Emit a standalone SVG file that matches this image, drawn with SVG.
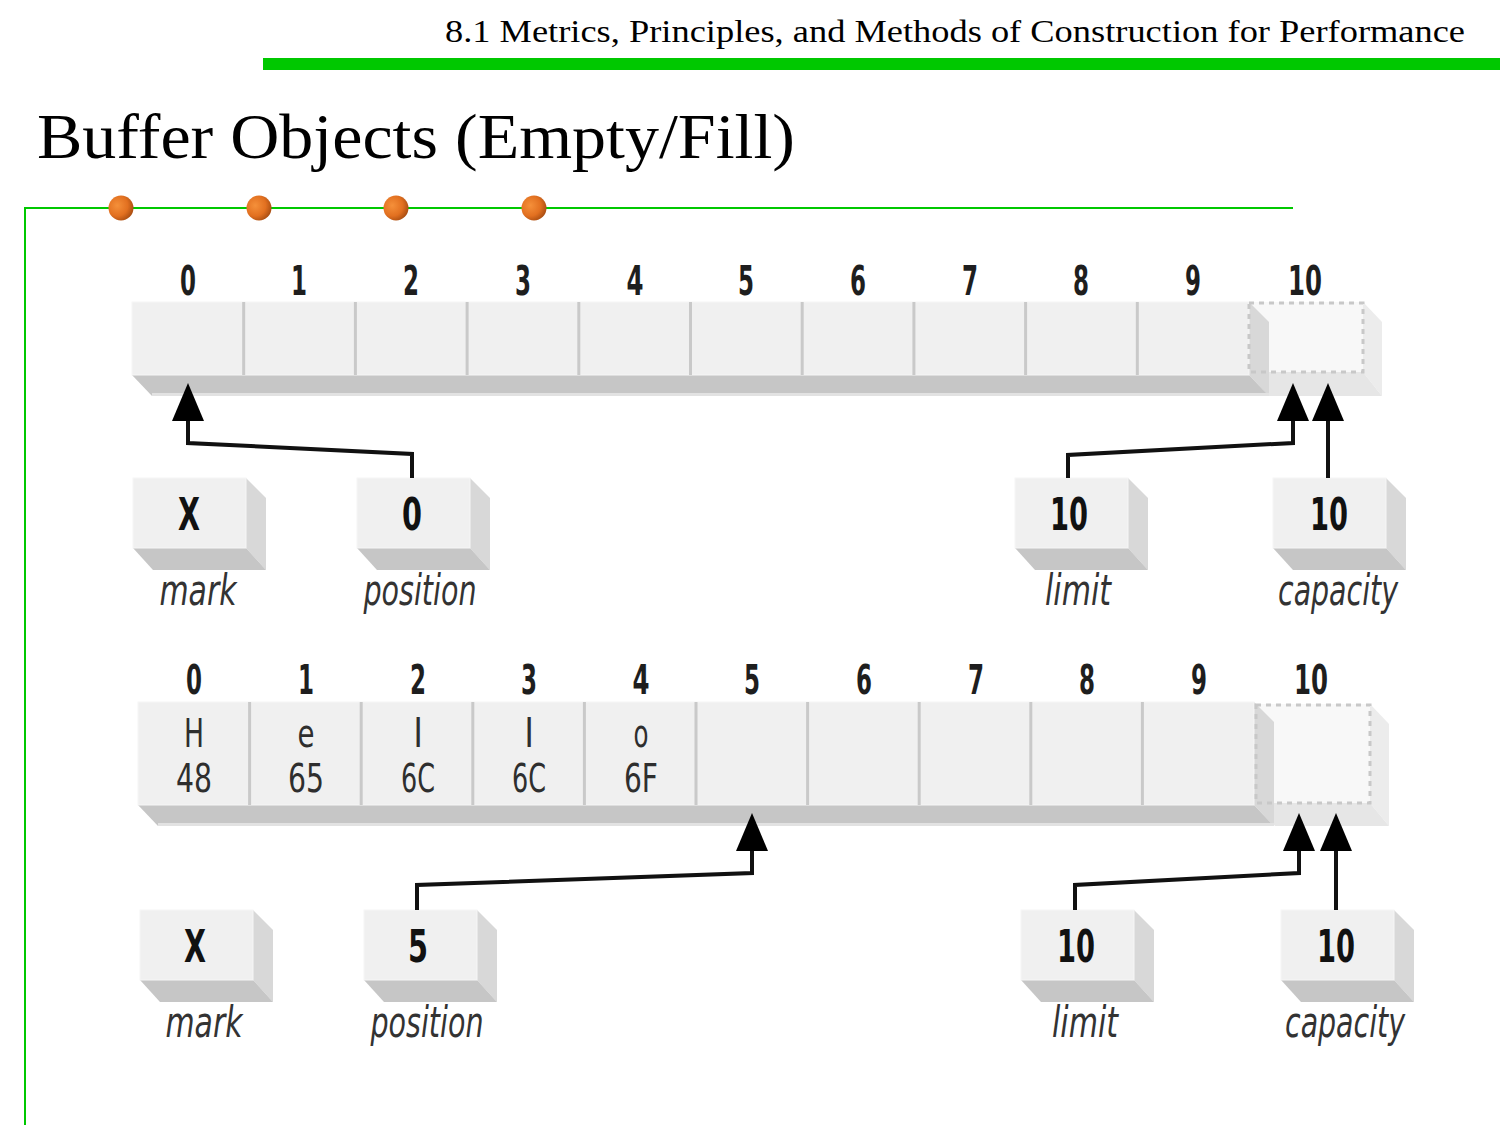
<svg xmlns="http://www.w3.org/2000/svg" width="1500" height="1125" viewBox="0 0 1500 1125">
<style>
.hdr{font-family:"Liberation Serif",serif;fill:#000}
.idx{font-family:"Liberation Sans Narrow","DejaVu Sans Condensed","Liberation Sans",sans-serif;font-weight:bold;font-size:40px;fill:#1e1e1e;text-anchor:middle}
.val{font-family:"Liberation Sans Narrow","DejaVu Sans Condensed","Liberation Sans",sans-serif;font-size:39px;fill:#2e2e2e;text-anchor:middle}
.bx{font-family:"Liberation Sans Narrow","DejaVu Sans Condensed","Liberation Sans",sans-serif;font-weight:bold;font-size:44px;fill:#111;text-anchor:middle}
.lbl{font-family:"Liberation Sans Narrow","DejaVu Sans Condensed","Liberation Sans",sans-serif;font-style:italic;font-size:42px;fill:#333;text-anchor:middle}
.face{fill:#f0f0f0;stroke:#f6f6f6;stroke-width:1}
.sr{fill:#d8d8d8}
.sb{fill:#c6c6c6}
.gsr{fill:#ececec}
.gsb{fill:#e6e6e6}
.ghost{fill:#f8f8f8}
.dash{fill:none;stroke:#c8c8c8;stroke-width:3;stroke-dasharray:5 5}
.div{stroke:#c9c9c9;stroke-width:3}
.conn{fill:none;stroke:#111;stroke-width:4;marker-end:url(#ah)}
.green{fill:none;stroke:#00c800;stroke-width:2}
</style>
<defs>
<marker id="ah" markerUnits="userSpaceOnUse" viewBox="0 0 38 32" refX="28" refY="16" markerWidth="38" markerHeight="32" orient="auto">
<path d="M0,0 L38,16 L0,32 z" fill="#000"/>
</marker>
<radialGradient id="dot" cx="0.35" cy="0.4" r="0.7">
<stop offset="0" stop-color="#f5903a"/>
<stop offset="0.6" stop-color="#e27020"/>
<stop offset="1" stop-color="#a44a10"/>
</radialGradient>
</defs>

<g id="header">
<text class="hdr" x="1465" y="42" font-size="31" text-anchor="end" textLength="1020" lengthAdjust="spacingAndGlyphs">8.1 Metrics, Principles, and Methods of Construction for Performance</text>
<rect x="263" y="58" width="1237" height="12" fill="#00c800"/>
<text class="hdr" x="37" y="158" font-size="64" textLength="758" lengthAdjust="spacingAndGlyphs">Buffer Objects (Empty/Fill)</text>
</g>

<g id="frame">
<polyline class="green" points="25,1125 25,208 1293,208"/>
<circle cx="121" cy="208" r="12.5" fill="url(#dot)"/>
<circle cx="259" cy="208" r="12.5" fill="url(#dot)"/>
<circle cx="396" cy="208" r="12.5" fill="url(#dot)"/>
<circle cx="534" cy="208" r="12.5" fill="url(#dot)"/>
</g>

<!-- Top buffer (empty) -->
<g id="buffer-empty">
<polygon class="gsr" points="1363,302 1382,322 1382,396 1363,372"/>
<polygon class="gsb" points="1249,372 1363,372 1382,396 1268,396"/>
<rect class="ghost" x="1249" y="302" width="114" height="70"/>
<polygon class="sr" points="1249,302 1269,322 1269,396 1249,375"/>
<polygon class="sb" points="132,375 1249,375 1269,396 152,396"/>
<rect x="152" y="393" width="1117" height="3" fill="#e2e2e2"/>
<rect class="face" x="132" y="302" width="1117" height="73"/>
<g class="div">
<line x1="243.7" y1="302" x2="243.7" y2="375"/>
<line x1="355.4" y1="302" x2="355.4" y2="375"/>
<line x1="467.1" y1="302" x2="467.1" y2="375"/>
<line x1="578.8" y1="302" x2="578.8" y2="375"/>
<line x1="690.5" y1="302" x2="690.5" y2="375"/>
<line x1="802.2" y1="302" x2="802.2" y2="375"/>
<line x1="913.9" y1="302" x2="913.9" y2="375"/>
<line x1="1025.6" y1="302" x2="1025.6" y2="375"/>
<line x1="1137.3" y1="302" x2="1137.3" y2="375"/>
</g>
<rect class="dash" x="1249" y="303" width="114" height="69"/>
<text class="idx" x="188" y="295" textLength="16" lengthAdjust="spacingAndGlyphs">0</text>
<text class="idx" x="299" y="295" textLength="16" lengthAdjust="spacingAndGlyphs">1</text>
<text class="idx" x="411" y="295" textLength="16" lengthAdjust="spacingAndGlyphs">2</text>
<text class="idx" x="523" y="295" textLength="16" lengthAdjust="spacingAndGlyphs">3</text>
<text class="idx" x="635" y="295" textLength="17" lengthAdjust="spacingAndGlyphs">4</text>
<text class="idx" x="746" y="295" textLength="16" lengthAdjust="spacingAndGlyphs">5</text>
<text class="idx" x="858" y="295" textLength="16" lengthAdjust="spacingAndGlyphs">6</text>
<text class="idx" x="970" y="295" textLength="16" lengthAdjust="spacingAndGlyphs">7</text>
<text class="idx" x="1081" y="295" textLength="16" lengthAdjust="spacingAndGlyphs">8</text>
<text class="idx" x="1193" y="295" textLength="16" lengthAdjust="spacingAndGlyphs">9</text>
<text class="idx" x="1305" y="295" textLength="34" lengthAdjust="spacingAndGlyphs">10</text>
</g>

<g id="mark-1">
<polygon class="sr" points="246,478 266,498 266,570 246,548"/>
<polygon class="sb" points="133,548 246,548 266,570 153,570"/>
<rect class="face" x="133" y="478" width="113" height="70"/>
<text class="bx" x="189" y="530" textLength="22" lengthAdjust="spacingAndGlyphs">X</text>
<text class="lbl" x="198" y="605" textLength="77" lengthAdjust="spacingAndGlyphs">mark</text>
</g>
<g id="position-1">
<polygon class="sr" points="470,478 490,498 490,570 470,548"/>
<polygon class="sb" points="357,548 470,548 490,570 377,570"/>
<rect class="face" x="357" y="478" width="113" height="70"/>
<text class="bx" x="412" y="530" textLength="20" lengthAdjust="spacingAndGlyphs">0</text>
<text class="lbl" x="420" y="605" textLength="113" lengthAdjust="spacingAndGlyphs">position</text>
</g>
<g id="limit-1">
<polygon class="sr" points="1128,478 1148,498 1148,570 1128,548"/>
<polygon class="sb" points="1015,548 1128,548 1148,570 1035,570"/>
<rect class="face" x="1015" y="478" width="113" height="70"/>
<text class="bx" x="1069" y="530" textLength="38" lengthAdjust="spacingAndGlyphs">10</text>
<text class="lbl" x="1078" y="605" textLength="66" lengthAdjust="spacingAndGlyphs">limit</text>
</g>
<g id="capacity-1">
<polygon class="sr" points="1386,478 1406,498 1406,570 1386,548"/>
<polygon class="sb" points="1273,548 1386,548 1406,570 1293,570"/>
<rect class="face" x="1273" y="478" width="113" height="70"/>
<text class="bx" x="1329" y="530" textLength="38" lengthAdjust="spacingAndGlyphs">10</text>
<text class="lbl" x="1338" y="605" textLength="120" lengthAdjust="spacingAndGlyphs">capacity</text>
</g>

<!-- Bottom buffer (filled) -->
<g id="buffer-fill">
<polygon class="gsr" points="1370,704 1389,724 1389,826 1370,803"/>
<polygon class="gsb" points="1256,803 1370,803 1389,826 1275,826"/>
<rect class="ghost" x="1256" y="704" width="114" height="99"/>
<polygon class="sr" points="1254,702 1274,722 1274,826 1254,805"/>
<polygon class="sb" points="138,805 1254,805 1274,826 158,826"/>
<rect x="158" y="823" width="1116" height="3" fill="#e2e2e2"/>
<rect class="face" x="138" y="702" width="1116" height="103"/>
<g class="div">
<line x1="249.6" y1="702" x2="249.6" y2="805"/>
<line x1="361.2" y1="702" x2="361.2" y2="805"/>
<line x1="472.8" y1="702" x2="472.8" y2="805"/>
<line x1="584.4" y1="702" x2="584.4" y2="805"/>
<line x1="696" y1="702" x2="696" y2="805"/>
<line x1="807.6" y1="702" x2="807.6" y2="805"/>
<line x1="919.2" y1="702" x2="919.2" y2="805"/>
<line x1="1030.8" y1="702" x2="1030.8" y2="805"/>
<line x1="1142.4" y1="702" x2="1142.4" y2="805"/>
</g>
<rect class="dash" x="1256" y="705" width="114" height="98"/>
<text class="idx" x="194" y="694" textLength="16" lengthAdjust="spacingAndGlyphs">0</text>
<text class="idx" x="306" y="694" textLength="16" lengthAdjust="spacingAndGlyphs">1</text>
<text class="idx" x="418" y="694" textLength="16" lengthAdjust="spacingAndGlyphs">2</text>
<text class="idx" x="529" y="694" textLength="16" lengthAdjust="spacingAndGlyphs">3</text>
<text class="idx" x="641" y="694" textLength="17" lengthAdjust="spacingAndGlyphs">4</text>
<text class="idx" x="752" y="694" textLength="16" lengthAdjust="spacingAndGlyphs">5</text>
<text class="idx" x="864" y="694" textLength="16" lengthAdjust="spacingAndGlyphs">6</text>
<text class="idx" x="976" y="694" textLength="16" lengthAdjust="spacingAndGlyphs">7</text>
<text class="idx" x="1087" y="694" textLength="16" lengthAdjust="spacingAndGlyphs">8</text>
<text class="idx" x="1199" y="694" textLength="16" lengthAdjust="spacingAndGlyphs">9</text>
<text class="idx" x="1311" y="694" textLength="34" lengthAdjust="spacingAndGlyphs">10</text>
<text class="val" x="194" y="747" textLength="20" lengthAdjust="spacingAndGlyphs">H</text>
<text class="val" x="194" y="792" textLength="36" lengthAdjust="spacingAndGlyphs">48</text>
<text class="val" x="306" y="747" textLength="17" lengthAdjust="spacingAndGlyphs">e</text>
<text class="val" x="306" y="792" textLength="36" lengthAdjust="spacingAndGlyphs">65</text>
<text class="val" x="418" y="747">l</text>
<text class="val" x="418" y="792" textLength="34" lengthAdjust="spacingAndGlyphs">6C</text>
<text class="val" x="529" y="747">l</text>
<text class="val" x="529" y="792" textLength="34" lengthAdjust="spacingAndGlyphs">6C</text>
<text class="val" x="641" y="747" textLength="15" lengthAdjust="spacingAndGlyphs">o</text>
<text class="val" x="641" y="792" textLength="34" lengthAdjust="spacingAndGlyphs">6F</text>
</g>

<g id="mark-2">
<polygon class="sr" points="253,910 273,930 273,1002 253,980"/>
<polygon class="sb" points="140,980 253,980 273,1002 160,1002"/>
<rect class="face" x="140" y="910" width="113" height="70"/>
<text class="bx" x="195" y="962" textLength="22" lengthAdjust="spacingAndGlyphs">X</text>
<text class="lbl" x="204" y="1037" textLength="77" lengthAdjust="spacingAndGlyphs">mark</text>
</g>
<g id="position-2">
<polygon class="sr" points="477,910 497,930 497,1002 477,980"/>
<polygon class="sb" points="364,980 477,980 497,1002 384,1002"/>
<rect class="face" x="364" y="910" width="113" height="70"/>
<text class="bx" x="418" y="962" textLength="20" lengthAdjust="spacingAndGlyphs">5</text>
<text class="lbl" x="427" y="1037" textLength="113" lengthAdjust="spacingAndGlyphs">position</text>
</g>
<g id="limit-2">
<polygon class="sr" points="1134,910 1154,930 1154,1002 1134,980"/>
<polygon class="sb" points="1021,980 1134,980 1154,1002 1041,1002"/>
<rect class="face" x="1021" y="910" width="113" height="70"/>
<text class="bx" x="1076" y="962" textLength="38" lengthAdjust="spacingAndGlyphs">10</text>
<text class="lbl" x="1085" y="1037" textLength="66" lengthAdjust="spacingAndGlyphs">limit</text>
</g>
<g id="capacity-2">
<polygon class="sr" points="1394,910 1414,930 1414,1002 1394,980"/>
<polygon class="sb" points="1281,980 1394,980 1414,1002 1301,1002"/>
<rect class="face" x="1281" y="910" width="113" height="70"/>
<text class="bx" x="1336" y="962" textLength="38" lengthAdjust="spacingAndGlyphs">10</text>
<text class="lbl" x="1345" y="1037" textLength="120" lengthAdjust="spacingAndGlyphs">capacity</text>
</g>

<g id="connectors">
<polyline class="conn" points="412,478 412,454 188,443 188,393"/>
<polyline class="conn" points="1068,478 1068,455 1293,443 1293,393"/>
<polyline class="conn" points="1328,478 1328,393"/>
<polyline class="conn" points="417,910 417,885 752,873 752,823"/>
<polyline class="conn" points="1075,910 1075,885 1299,873 1299,823"/>
<polyline class="conn" points="1336,910 1336,823"/>
</g>
</svg>
